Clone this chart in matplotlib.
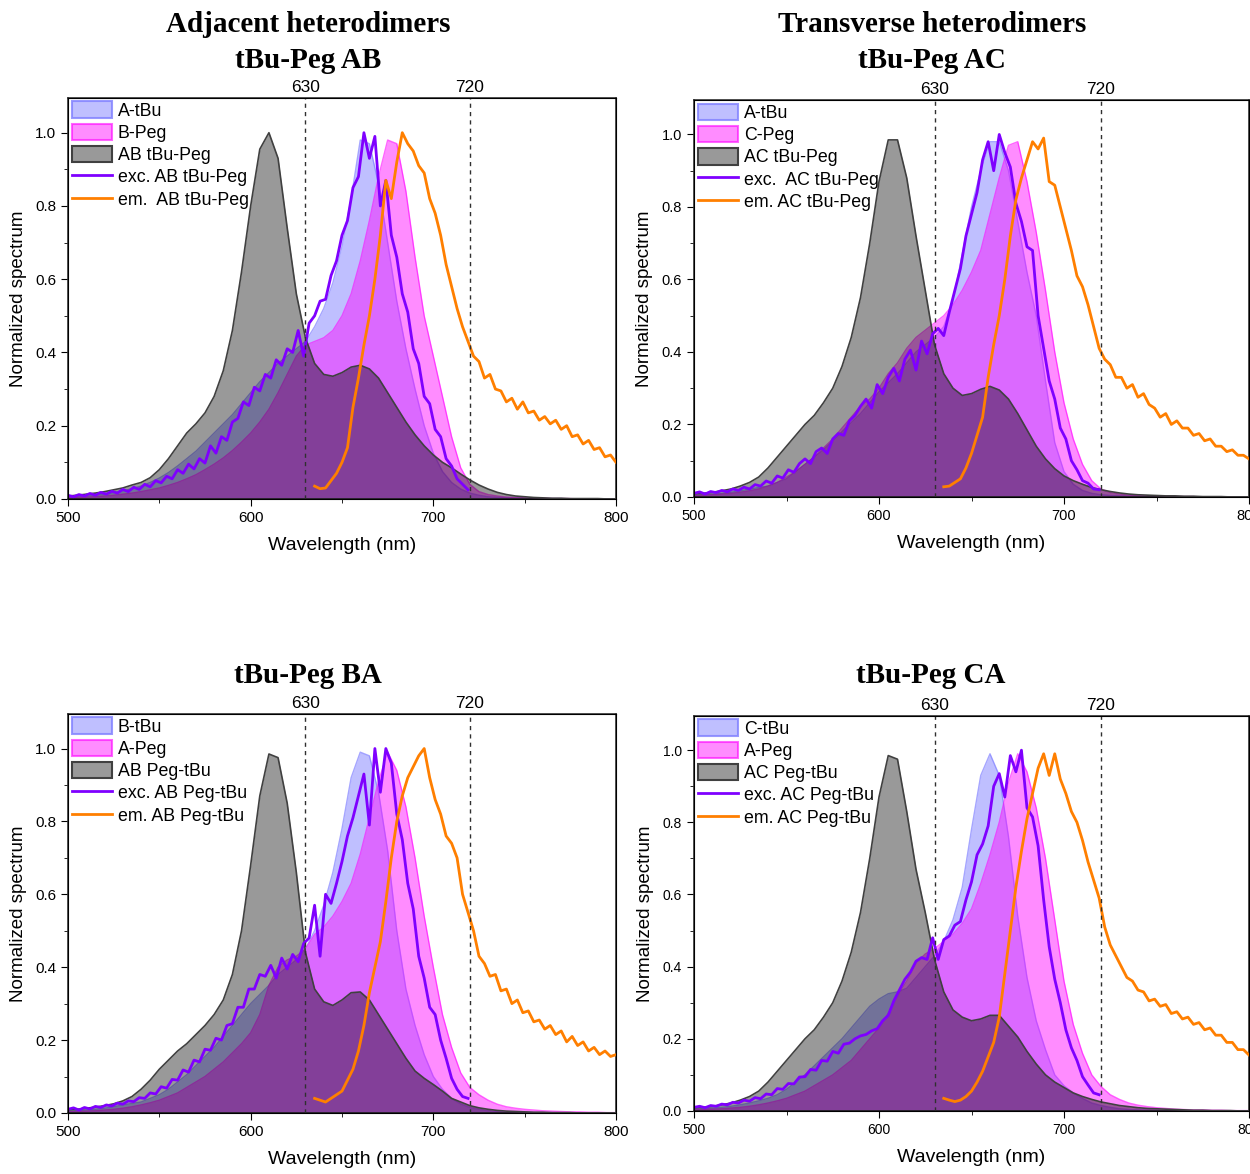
import numpy as np
import matplotlib
matplotlib.use("Agg")
import matplotlib.pyplot as plt
from matplotlib.patches import Patch
from matplotlib.lines import Line2D
from matplotlib.ticker import MultipleLocator

plt.rcParams['font.family'] = ['Liberation Sans', 'DejaVu Sans']

# wavelength grids (nm)
wl = np.arange(500, 801, 5)        # smooth absorption spectra
wl_exc = np.arange(500, 720, 3)    # excitation scans
wl_em = np.arange(635, 801, 3)     # emission scans

# ---------------- top left: tBu-Peg AB ----------------
tl_tbu = [0.005, 0.006, 0.008, 0.010, 0.013, 0.017, 0.022, 0.028, 0.035, 0.045, 0.057, 0.072, 0.090, 0.110,
          0.130, 0.155, 0.180, 0.205, 0.230, 0.260, 0.290, 0.320, 0.345, 0.370, 0.390, 0.410, 0.430, 0.470,
          0.520, 0.590, 0.690, 0.820, 0.980, 0.970, 0.860, 0.700, 0.540, 0.410, 0.300, 0.200, 0.125, 0.075,
          0.045, 0.027, 0.016, 0.010, 0.006, 0.004, 0.003, 0.002, 0.002, 0.001, 0.001, 0.001, 0.001, 0.0,
          0.0, 0.0, 0.0, 0.0, 0.0]
tl_peg = [0.003, 0.004, 0.005, 0.006, 0.008, 0.010, 0.013, 0.016, 0.020, 0.025, 0.030, 0.037, 0.045, 0.055,
          0.066, 0.080, 0.095, 0.112, 0.132, 0.155, 0.180, 0.210, 0.245, 0.290, 0.340, 0.390, 0.420, 0.430,
          0.440, 0.460, 0.500, 0.560, 0.650, 0.760, 0.880, 0.980, 0.970, 0.840, 0.660, 0.500, 0.390, 0.280,
          0.170, 0.085, 0.040, 0.020, 0.012, 0.008, 0.005, 0.004, 0.003, 0.002, 0.002, 0.001, 0.001, 0.001,
          0.0, 0.0, 0.0, 0.0, 0.0]
tl_dim = [0.008, 0.010, 0.013, 0.016, 0.020, 0.025, 0.030, 0.038, 0.045, 0.058, 0.080, 0.110, 0.145, 0.180,
          0.205, 0.235, 0.280, 0.350, 0.460, 0.620, 0.800, 0.955, 1.000, 0.930, 0.740, 0.560, 0.440, 0.370,
          0.340, 0.335, 0.345, 0.360, 0.365, 0.355, 0.330, 0.290, 0.250, 0.210, 0.175, 0.145, 0.120, 0.100,
          0.085, 0.068, 0.052, 0.038, 0.027, 0.018, 0.012, 0.008, 0.006, 0.004, 0.003, 0.002, 0.002, 0.001,
          0.001, 0.001, 0.001, 0.0, 0.0]
tl_exc = [0.010, 0.006, 0.012, 0.008, 0.015, 0.010, 0.018, 0.013, 0.021, 0.016, 0.026, 0.020, 0.032, 0.026,
          0.040, 0.033, 0.050, 0.044, 0.062, 0.055, 0.080, 0.070, 0.095, 0.082, 0.110, 0.098, 0.145, 0.125,
          0.170, 0.160, 0.210, 0.220, 0.265, 0.255, 0.305, 0.295, 0.340, 0.330, 0.380, 0.365, 0.410, 0.400,
          0.460, 0.390, 0.480, 0.500, 0.540, 0.545, 0.610, 0.650, 0.720, 0.760, 0.850, 0.880, 1.000, 0.930,
          0.990, 0.800, 0.870, 0.720, 0.660, 0.560, 0.510, 0.410, 0.370, 0.280, 0.260, 0.190, 0.170, 0.110,
          0.090, 0.055, 0.040, 0.025]
tl_em = [0.035, 0.028, 0.030, 0.050, 0.070, 0.100, 0.140, 0.250, 0.330, 0.420, 0.500, 0.600, 0.720, 0.870,
         0.820, 0.920, 1.000, 0.970, 0.950, 0.910, 0.890, 0.820, 0.780, 0.720, 0.640, 0.580, 0.520, 0.470,
         0.430, 0.390, 0.375, 0.330, 0.340, 0.300, 0.295, 0.265, 0.275, 0.245, 0.265, 0.235, 0.240, 0.215,
         0.225, 0.205, 0.215, 0.190, 0.200, 0.170, 0.175, 0.150, 0.160, 0.135, 0.140, 0.115, 0.120, 0.100]

# ---------------- top right: tBu-Peg AC ----------------
tr_tbu = [0.005, 0.006, 0.008, 0.010, 0.013, 0.017, 0.022, 0.026, 0.030, 0.040, 0.050, 0.070, 0.090, 0.110,
          0.130, 0.155, 0.180, 0.205, 0.230, 0.260, 0.290, 0.315, 0.340, 0.370, 0.400, 0.420, 0.440, 0.470,
          0.540, 0.670, 0.800, 0.900, 0.980, 0.980, 0.900, 0.760, 0.620, 0.500, 0.320, 0.150, 0.070, 0.035,
          0.018, 0.010, 0.006, 0.004, 0.003, 0.002, 0.002, 0.001, 0.001, 0.001, 0.001, 0.0, 0.0, 0.0,
          0.0, 0.0, 0.0, 0.0, 0.0]
tr_peg = [0.004, 0.005, 0.006, 0.008, 0.010, 0.013, 0.017, 0.022, 0.030, 0.040, 0.055, 0.070, 0.090, 0.110,
          0.135, 0.160, 0.190, 0.220, 0.250, 0.270, 0.300, 0.340, 0.370, 0.410, 0.440, 0.460, 0.480, 0.500,
          0.530, 0.570, 0.620, 0.680, 0.780, 0.880, 0.970, 0.980, 0.870, 0.730, 0.570, 0.400, 0.260, 0.160,
          0.090, 0.045, 0.022, 0.012, 0.008, 0.005, 0.004, 0.003, 0.002, 0.002, 0.001, 0.001, 0.001, 0.0,
          0.0, 0.0, 0.0, 0.0, 0.0]
tr_dim = [0.008, 0.010, 0.013, 0.017, 0.022, 0.030, 0.040, 0.055, 0.080, 0.110, 0.140, 0.170, 0.200, 0.225,
          0.260, 0.300, 0.360, 0.440, 0.550, 0.700, 0.870, 0.985, 0.985, 0.880, 0.720, 0.570, 0.420, 0.340,
          0.300, 0.280, 0.285, 0.297, 0.305, 0.295, 0.270, 0.230, 0.185, 0.140, 0.105, 0.078, 0.058, 0.045,
          0.035, 0.026, 0.020, 0.015, 0.011, 0.008, 0.006, 0.005, 0.004, 0.003, 0.003, 0.002, 0.002, 0.001,
          0.001, 0.001, 0.0, 0.0, 0.0]
tr_exc = [0.010, 0.014, 0.008, 0.015, 0.012, 0.018, 0.014, 0.022, 0.018, 0.027, 0.022, 0.034, 0.030, 0.044,
          0.038, 0.058, 0.052, 0.075, 0.068, 0.092, 0.105, 0.092, 0.125, 0.135, 0.120, 0.160, 0.175, 0.170,
          0.210, 0.225, 0.250, 0.270, 0.245, 0.310, 0.285, 0.330, 0.355, 0.320, 0.380, 0.405, 0.350, 0.430,
          0.395, 0.450, 0.465, 0.445, 0.510, 0.570, 0.630, 0.720, 0.780, 0.840, 0.930, 0.980, 0.900, 1.000,
          0.950, 0.910, 0.810, 0.760, 0.690, 0.680, 0.500, 0.410, 0.320, 0.270, 0.190, 0.160, 0.100, 0.075,
          0.045, 0.038, 0.022, 0.020]
tr_em = [0.028, 0.030, 0.040, 0.050, 0.080, 0.120, 0.170, 0.220, 0.330, 0.420, 0.500, 0.600, 0.720, 0.820,
         0.880, 0.930, 0.980, 0.960, 0.990, 0.870, 0.860, 0.800, 0.740, 0.680, 0.610, 0.580, 0.530, 0.470,
         0.410, 0.380, 0.365, 0.330, 0.330, 0.300, 0.310, 0.275, 0.285, 0.255, 0.245, 0.220, 0.230, 0.200,
         0.210, 0.190, 0.190, 0.170, 0.175, 0.155, 0.160, 0.140, 0.140, 0.125, 0.130, 0.115, 0.115, 0.105]

# ---------------- bottom left: tBu-Peg BA ----------------
bl_tbu = [0.005, 0.006, 0.008, 0.010, 0.013, 0.017, 0.022, 0.026, 0.030, 0.040, 0.050, 0.065, 0.085, 0.105,
          0.130, 0.155, 0.180, 0.210, 0.240, 0.270, 0.300, 0.325, 0.350, 0.380, 0.400, 0.420, 0.450, 0.500,
          0.570, 0.660, 0.780, 0.920, 0.990, 0.980, 0.880, 0.720, 0.500, 0.340, 0.240, 0.160, 0.100, 0.065,
          0.040, 0.025, 0.015, 0.010, 0.006, 0.004, 0.003, 0.002, 0.002, 0.001, 0.001, 0.001, 0.0, 0.0,
          0.0, 0.0, 0.0, 0.0, 0.0]
bl_peg = [0.003, 0.004, 0.005, 0.006, 0.008, 0.010, 0.013, 0.017, 0.022, 0.028, 0.035, 0.045, 0.055, 0.070,
          0.085, 0.100, 0.120, 0.140, 0.165, 0.190, 0.220, 0.270, 0.350, 0.400, 0.420, 0.430, 0.450, 0.490,
          0.510, 0.540, 0.580, 0.630, 0.710, 0.810, 0.910, 0.990, 0.940, 0.840, 0.700, 0.540, 0.400, 0.270,
          0.180, 0.110, 0.070, 0.050, 0.035, 0.024, 0.017, 0.013, 0.010, 0.008, 0.006, 0.005, 0.004, 0.003,
          0.003, 0.002, 0.002, 0.001, 0.001]
bl_dim = [0.008, 0.010, 0.013, 0.016, 0.020, 0.025, 0.033, 0.045, 0.065, 0.090, 0.120, 0.145, 0.170, 0.190,
          0.215, 0.240, 0.270, 0.310, 0.380, 0.500, 0.680, 0.870, 0.985, 0.975, 0.850, 0.660, 0.440, 0.340,
          0.305, 0.295, 0.310, 0.330, 0.332, 0.310, 0.270, 0.230, 0.190, 0.150, 0.115, 0.095, 0.078, 0.060,
          0.040, 0.030, 0.020, 0.014, 0.010, 0.007, 0.005, 0.004, 0.003, 0.002, 0.002, 0.001, 0.001, 0.001,
          0.0, 0.0, 0.0, 0.0, 0.0]
bl_exc = [0.010, 0.014, 0.008, 0.015, 0.011, 0.018, 0.015, 0.022, 0.019, 0.027, 0.024, 0.033, 0.031, 0.042,
          0.040, 0.055, 0.052, 0.072, 0.068, 0.092, 0.090, 0.118, 0.112, 0.145, 0.140, 0.175, 0.172, 0.205,
          0.200, 0.240, 0.245, 0.290, 0.290, 0.340, 0.340, 0.380, 0.375, 0.405, 0.370, 0.425, 0.395, 0.435,
          0.415, 0.465, 0.480, 0.570, 0.430, 0.600, 0.575, 0.630, 0.690, 0.760, 0.810, 0.870, 0.930, 0.790,
          1.000, 0.880, 1.000, 0.960, 0.820, 0.750, 0.630, 0.560, 0.430, 0.370, 0.290, 0.270, 0.200, 0.150,
          0.095, 0.065, 0.045, 0.040]
bl_em = [0.040, 0.035, 0.030, 0.040, 0.050, 0.060, 0.090, 0.120, 0.170, 0.240, 0.330, 0.400, 0.470, 0.580,
         0.700, 0.800, 0.870, 0.920, 0.950, 0.980, 1.000, 0.920, 0.860, 0.820, 0.760, 0.740, 0.700, 0.600,
         0.550, 0.500, 0.430, 0.410, 0.375, 0.380, 0.335, 0.340, 0.300, 0.310, 0.275, 0.280, 0.250, 0.255,
         0.230, 0.240, 0.215, 0.225, 0.195, 0.210, 0.185, 0.195, 0.170, 0.180, 0.160, 0.170, 0.155, 0.160]

# ---------------- bottom right: tBu-Peg CA ----------------
br_tbu = [0.005, 0.006, 0.008, 0.010, 0.013, 0.017, 0.022, 0.028, 0.035, 0.045, 0.060, 0.080, 0.100, 0.125,
          0.150, 0.175, 0.200, 0.230, 0.260, 0.290, 0.310, 0.325, 0.330, 0.340, 0.370, 0.400, 0.430, 0.470,
          0.530, 0.620, 0.780, 0.930, 0.990, 0.930, 0.760, 0.540, 0.370, 0.250, 0.170, 0.100, 0.070, 0.050,
          0.035, 0.022, 0.015, 0.010, 0.006, 0.004, 0.003, 0.002, 0.002, 0.001, 0.001, 0.001, 0.0, 0.0,
          0.0, 0.0, 0.0, 0.0, 0.0]
br_peg = [0.003, 0.004, 0.005, 0.006, 0.008, 0.010, 0.013, 0.017, 0.022, 0.028, 0.035, 0.045, 0.055, 0.070,
          0.085, 0.100, 0.120, 0.140, 0.170, 0.200, 0.230, 0.270, 0.320, 0.360, 0.410, 0.435, 0.450, 0.470,
          0.490, 0.520, 0.560, 0.630, 0.710, 0.800, 0.910, 0.990, 0.940, 0.840, 0.700, 0.530, 0.360, 0.240,
          0.160, 0.100, 0.068, 0.045, 0.032, 0.022, 0.016, 0.012, 0.009, 0.007, 0.005, 0.004, 0.003, 0.003,
          0.002, 0.002, 0.001, 0.001, 0.001]
br_dim = [0.008, 0.010, 0.013, 0.017, 0.022, 0.030, 0.040, 0.055, 0.080, 0.110, 0.140, 0.170, 0.200, 0.225,
          0.260, 0.300, 0.360, 0.440, 0.550, 0.700, 0.870, 0.985, 0.975, 0.830, 0.670, 0.550, 0.420, 0.330,
          0.280, 0.260, 0.250, 0.255, 0.265, 0.265, 0.235, 0.205, 0.165, 0.130, 0.100, 0.080, 0.065, 0.050,
          0.040, 0.032, 0.025, 0.020, 0.015, 0.012, 0.009, 0.007, 0.006, 0.005, 0.004, 0.003, 0.002, 0.002,
          0.001, 0.001, 0.001, 0.0, 0.0]
br_exc = [0.010, 0.013, 0.009, 0.015, 0.013, 0.019, 0.017, 0.024, 0.022, 0.030, 0.027, 0.037, 0.034, 0.047,
          0.045, 0.062, 0.060, 0.076, 0.075, 0.094, 0.095, 0.115, 0.113, 0.140, 0.138, 0.165, 0.160, 0.185,
          0.188, 0.200, 0.208, 0.212, 0.222, 0.228, 0.250, 0.265, 0.305, 0.335, 0.365, 0.385, 0.415, 0.425,
          0.420, 0.480, 0.420, 0.475, 0.485, 0.515, 0.525, 0.585, 0.635, 0.710, 0.740, 0.790, 0.900, 0.935,
          0.870, 0.985, 0.940, 1.000, 0.840, 0.815, 0.735, 0.585, 0.455, 0.365, 0.300, 0.225, 0.175, 0.140,
          0.095, 0.072, 0.050, 0.045]
br_em = [0.035, 0.030, 0.026, 0.030, 0.040, 0.055, 0.080, 0.110, 0.150, 0.190, 0.260, 0.380, 0.500, 0.620,
         0.720, 0.810, 0.880, 0.950, 0.990, 0.930, 0.990, 0.920, 0.880, 0.830, 0.800, 0.750, 0.690, 0.640,
         0.590, 0.510, 0.460, 0.430, 0.400, 0.370, 0.360, 0.335, 0.330, 0.305, 0.310, 0.290, 0.295, 0.270,
         0.275, 0.255, 0.260, 0.240, 0.245, 0.225, 0.230, 0.210, 0.210, 0.190, 0.190, 0.170, 0.170, 0.155]

panels = [
    dict(pos=[0.0544, 0.575, 0.4384, 0.3416], tbu=tl_tbu, peg=tl_peg, dim=tl_dim, exc=tl_exc, em=tl_em,
         labels=["A-tBu", "B-Peg", "AB tBu-Peg", "exc. AB tBu-Peg", "em.  AB tBu-Peg"],
         title="Adjacent heterodimers\ntBu-Peg AB", tx=0.2464, ty=0.9638, fs=11),
    dict(pos=[0.5552, 0.5767, 0.444, 0.3381], tbu=tr_tbu, peg=tr_peg, dim=tr_dim, exc=tr_exc, em=tr_em,
         labels=["A-tBu", "C-Peg", "AC tBu-Peg", "exc.  AC tBu-Peg", "em. AC tBu-Peg"],
         title="Transverse heterodimers\ntBu-Peg AC", tx=0.7456, ty=0.9638, fs=10.5),
    dict(pos=[0.0544, 0.052, 0.4384, 0.3399], tbu=bl_tbu, peg=bl_peg, dim=bl_dim, exc=bl_exc, em=bl_em,
         labels=["B-tBu", "A-Peg", "AB Peg-tBu", "exc. AB Peg-tBu", "em. AB Peg-tBu"],
         title="tBu-Peg BA", tx=0.2464, ty=0.425, fs=11),
    dict(pos=[0.5552, 0.0537, 0.444, 0.3365], tbu=br_tbu, peg=br_peg, dim=br_dim, exc=br_exc, em=br_em,
         labels=["C-tBu", "A-Peg", "AC Peg-tBu", "exc. AC Peg-tBu", "em. AC Peg-tBu"],
         title="tBu-Peg CA", tx=0.745, ty=0.425, fs=10),
]

BLUE = (0.5, 0.5, 1.0)
MAGENTA = (1.0, 0.0, 1.0)
EXC = '#7f00ff'
EM = '#ff7f00'

fig = plt.figure(figsize=(12.5, 11.74), dpi=100)

for p in panels:
    ax = fig.add_axes(p['pos'])
    ax.fill_between(wl, p['tbu'], color=BLUE, alpha=0.5, lw=0, zorder=1)
    ax.plot(wl, p['tbu'], color=BLUE, alpha=0.7, lw=1, zorder=1)
    ax.fill_between(wl, p['peg'], color=MAGENTA, alpha=0.45, lw=0, zorder=2)
    ax.plot(wl, p['peg'], color=MAGENTA, alpha=0.6, lw=1, zorder=2)
    ax.fill_between(wl, p['dim'], color='black', alpha=0.4, lw=0, zorder=3)
    ax.plot(wl, p['dim'], color='#404040', lw=1.2, zorder=3)
    ax.plot(wl_exc, p['exc'], color=EXC, lw=2, zorder=4)
    ax.plot(wl_em, p['em'], color=EM, lw=2, zorder=4)
    for v in (630, 720):
        ax.axvline(v, color='#303030', ls=(0, (3, 3)), lw=1, zorder=5)

    ax.set_xlim(500, 800)
    ax.set_ylim(0, 1.095)
    ax.xaxis.set_major_locator(MultipleLocator(100))
    ax.xaxis.set_minor_locator(MultipleLocator(50))
    ax.yaxis.set_major_locator(MultipleLocator(0.2))
    ax.yaxis.set_minor_locator(MultipleLocator(0.1))
    ax.yaxis.set_major_formatter(matplotlib.ticker.FormatStrFormatter('%.1f'))
    ax.tick_params(which='both', direction='out', top=False, right=False, labelsize=p['fs'])
    ax.tick_params(which='major', length=5)
    ax.tick_params(which='minor', length=3)
    for s in ax.spines.values():
        s.set_linewidth(1.2)
        s.set_color('#333333')
    ax.set_xlabel("Wavelength (nm)", fontsize=14, labelpad=9)
    ax.set_ylabel("Normalized spectrum", fontsize=13.5, labelpad=6)

    top = ax.twiny()
    top.set_xlim(500, 800)
    top.set_xticks([630, 720])
    top.set_xticklabels(["630", "720"])
    top.tick_params(length=0, pad=2, labelsize=12.5)

    handles = [
        Patch(facecolor=(0.5, 0.5, 1.0, 0.5), edgecolor=(0.5, 0.5, 1.0, 0.8), lw=1.5),
        Patch(facecolor=(1.0, 0.0, 1.0, 0.45), edgecolor=(1.0, 0.0, 1.0, 0.6), lw=1.5),
        Patch(facecolor=(0, 0, 0, 0.4), edgecolor='#404040', lw=1.5),
        Line2D([], [], color=EXC, lw=2),
        Line2D([], [], color=EM, lw=2),
    ]
    ax.legend(handles, p['labels'], loc='upper left', frameon=False, fontsize=12.8,
              borderaxespad=0.1, borderpad=0.1, handlelength=2.3, handleheight=1.05,
              labelspacing=0.22, handletextpad=0.3)

    fig.text(p['tx'], p['ty'], p['title'], ha='center', va='center', fontsize=21,
             fontweight='bold', family=['Liberation Serif', 'DejaVu Serif'], linespacing=1.4)

fig.savefig("out.png", dpi=100)
